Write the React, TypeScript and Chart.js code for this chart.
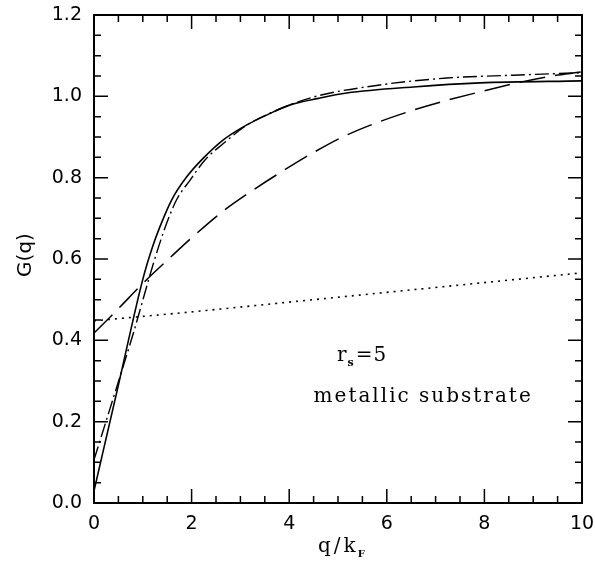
import React, { useEffect, useRef } from "react";
import { Chart, registerables } from "chart.js";

Chart.register(...registerables);

// q/kF sample positions and G(q) values for each curve
const solidX = [0, 0.5, 1.0, 1.2, 1.35, 1.59, 1.9, 2.24, 2.65, 3.06, 3.61, 4.02, 4.6, 5.18, 6.54, 7.91, 10];
const solidY = [0.03, 0.29, 0.55, 0.63, 0.679, 0.745, 0.802, 0.848, 0.893, 0.925, 0.958, 0.979, 0.995, 1.008, 1.023, 1.033, 1.038];

const dashDotX = [0, 0.4, 0.8, 1.22, 1.45, 1.69, 1.97, 2.27, 2.65, 3.13, 3.67, 4.49, 5.86, 7.23, 8.59, 10];
const dashDotY = [0.106, 0.26, 0.415, 0.59, 0.675, 0.745, 0.794, 0.843, 0.884, 0.929, 0.962, 0.998, 1.028, 1.045, 1.052, 1.058];

const dashedX = [0, 0.5, 1.0, 1.6, 2.0, 2.65, 3.33, 3.81, 4.5, 5.18, 6.54, 7.91, 9.28, 10];
const dashedY = [0.418, 0.478, 0.54, 0.608, 0.652, 0.718, 0.775, 0.812, 0.862, 0.905, 0.966, 1.011, 1.048, 1.06];

const dottedX = [0, 2, 4, 6, 8, 10];
const dottedY = [0.448, 0.47, 0.494, 0.518, 0.542, 0.566];

const xTickStep = 2;
const yTickStep = 0.2;

const pts = (xs: number[], ys: number[]) => xs.map((x, i) => ({ x, y: ys[i] }));

const framePlugin = {
  id: "frameTicks",
  afterDraw(chart: any) {
    const { ctx, chartArea } = chart;
    const xs = chart.scales.x;
    const ys = chart.scales.y;
    const { left, right, top, bottom } = chartArea;
    ctx.save();
    ctx.strokeStyle = "#000";
    ctx.lineWidth = 1.5;
    // x ticks (every 0.5, major every 2)
    for (let i = 0; i <= 20; i++) {
      const v = i * 0.5;
      const px = xs.getPixelForValue(v);
      const len = i % 4 === 0 ? 14 : 7;
      ctx.beginPath();
      ctx.moveTo(px, bottom);
      ctx.lineTo(px, bottom - len);
      ctx.moveTo(px, top);
      ctx.lineTo(px, top + len);
      ctx.stroke();
    }
    // y ticks (every 0.05, major every 0.2)
    for (let i = 0; i <= 24; i++) {
      const v = i * 0.05;
      const py = ys.getPixelForValue(v);
      const len = i % 4 === 0 ? 14 : 7;
      ctx.beginPath();
      ctx.moveTo(left, py);
      ctx.lineTo(left + len, py);
      ctx.moveTo(right, py);
      ctx.lineTo(right - len, py);
      ctx.stroke();
    }
    ctx.lineWidth = 2;
    ctx.strokeRect(left, top, right - left, bottom - top);

    // annotations
    ctx.fillStyle = "#000";
    ctx.textBaseline = "alphabetic";
    ctx.textAlign = "left";
    const serif = "'DejaVu Serif', serif";
    // r_s = 5
    let ax = xs.getPixelForValue(4.98);
    let ay = ys.getPixelForValue(0.348);
    ctx.font = `20px ${serif}`;
    (ctx as any).letterSpacing = "1px";
    ctx.fillText("r", ax, ay);
    ax += ctx.measureText("r").width;
    ctx.font = `bold 11px ${serif}`;
    ctx.fillText("s", ax, ay + 5);
    ax += ctx.measureText("s").width + 1;
    ctx.font = `20px ${serif}`;
    ctx.fillText("=5", ax, ay);
    // metallic substrate
    ctx.font = `20px ${serif}`;
    (ctx as any).letterSpacing = "2px";
    ctx.fillText("metallic substrate", xs.getPixelForValue(4.5), ys.getPixelForValue(0.248));

    // x axis title q/k_F
    let tx = 318;
    const tyb = 552;
    ctx.font = `20px ${serif}`;
    (ctx as any).letterSpacing = "3px";
    ctx.fillText("q/k", tx, tyb);
    tx += ctx.measureText("q/k").width;
    ctx.font = `bold 10px ${serif}`;
    (ctx as any).letterSpacing = "0px";
    ctx.fillText("F", tx - 1, tyb + 5);

    // y axis title G(q)
    ctx.save();
    ctx.translate(26, 255);
    ctx.rotate(-Math.PI / 2);
    ctx.font = "20px 'DejaVu Sans', sans-serif";
    ctx.textAlign = "center";
    ctx.textBaseline = "middle";
    (ctx as any).letterSpacing = "0px";
    ctx.fillText("G(q)", 0, 0);
    ctx.restore();

    ctx.restore();
  },
};

export default function App() {
  const ref = useRef<HTMLCanvasElement | null>(null);
  useEffect(() => {
    if (!ref.current) return;
    const common = { borderColor: "#000", pointRadius: 0, fill: false, cubicInterpolationMode: "monotone" as const };
    const chart = new Chart(ref.current, {
      type: "line",
      data: {
        datasets: [
          { ...common, label: "solid", data: pts(solidX, solidY), borderWidth: 1.6 },
          { ...common, label: "dash-dot", data: pts(dashDotX, dashDotY), borderWidth: 1.4, borderDash: [14, 4, 2, 4] },
          { ...common, label: "dashed", data: pts(dashedX, dashedY), borderWidth: 1.5, borderDash: [26, 10] },
          { ...common, label: "dotted", data: pts(dottedX, dottedY), borderWidth: 1.6, borderDash: [2, 5] },
        ],
      },
      options: {
        responsive: false,
        animation: false,
        events: [],
        layout: { padding: { top: 15, right: 13, left: 0, bottom: 0 } },
        plugins: { legend: { display: false }, tooltip: { enabled: false }, title: { display: false } },
        scales: {
          x: {
            type: "linear",
            min: 0,
            max: 10,
            grid: { display: false, drawTicks: false, tickLength: 0 },
            border: { display: false },
            ticks: {
              stepSize: xTickStep,
              color: "#000",
              padding: 10,
              maxRotation: 0,
              font: { family: "'DejaVu Sans', sans-serif", size: 19 },
              callback: (v: any) => String(v),
            },
            afterFit: (s: any) => {
              s.height = 68;
              s.paddingLeft = 0;
              s.paddingRight = 0;
            },
          },
          y: {
            type: "linear",
            min: 0,
            max: 1.2,
            grid: { display: false, drawTicks: false, tickLength: 0 },
            border: { display: false },
            ticks: {
              stepSize: yTickStep,
              color: "#000",
              padding: 12,
              font: { family: "'DejaVu Sans', sans-serif", size: 19 },
              callback: (v: any) => Number(v).toFixed(1),
            },
            afterFit: (s: any) => {
              s.width = 94;
              s.paddingTop = 0;
              s.paddingBottom = 0;
            },
          },
        },
      },
      plugins: [framePlugin],
    });
    return () => chart.destroy();
  }, []);
  return (
    <div style={{ position: "fixed", left: 0, top: 0, width: 595, height: 571, background: "#fff" }}>
      <canvas ref={ref} width={595} height={571} style={{ display: "block" }} />
    </div>
  );
}
